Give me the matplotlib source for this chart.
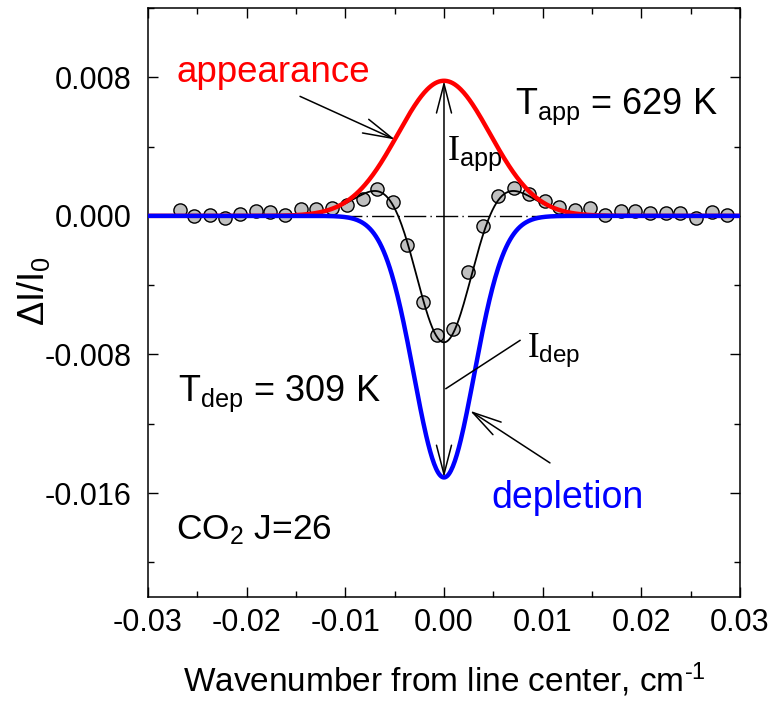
import numpy as np
import matplotlib
matplotlib.use("Agg")
import matplotlib.pyplot as plt
from matplotlib.ticker import MultipleLocator, FormatStrFormatter

plt.rcParams["font.family"] = ["Liberation Sans", "DejaVu Sans"]
plt.rcParams["mathtext.fontset"] = "custom"
plt.rcParams["mathtext.rm"] = "Liberation Sans"
plt.rcParams["mathtext.sf"] = "Liberation Sans"
plt.rcParams["mathtext.it"] = "Liberation Sans:italic"
plt.rcParams["axes.unicode_minus"] = False

# measured difference spectrum (wavenumber offset, cm-1 ; dI/I0)
wn = [-0.02676, -0.02534, -0.02372, -0.02219, -0.02068, -0.01905, -0.01763,
      -0.01611, -0.01449, -0.01297, -0.01135, -0.00983, -0.00821, -0.00679,
      -0.00517, -0.00375, -0.00213, -0.00071, 0.00091, 0.00243, 0.00395,
      0.00547, 0.00709, 0.00861, 0.01024, 0.01166, 0.01328, 0.01480,
      0.01632, 0.01794, 0.01936, 0.02088, 0.02250, 0.02392, 0.02554,
      0.02716, 0.02868]
dI = [0.00035, 0.00002, 0.00006, -0.00010, 0.00010, 0.00029, 0.00025,
      0.00006, 0.00037, 0.00039, 0.00045, 0.00064, 0.00097, 0.00157,
      0.00079, -0.00168, -0.00500, -0.00690, -0.00651, -0.00323, -0.00058,
      0.00116, 0.00161, 0.00128, 0.00083, 0.00050, 0.00035, 0.00047,
      0.00006, 0.00029, 0.00029, 0.00016, 0.00016, 0.00016, -0.00010,
      0.00025, 0.00006]

# Doppler components: peak amplitude and FWHM (cm-1)
amp_app, fwhm_app, T_app = 0.0078, 0.0110, 629
amp_dep, fwhm_dep, T_dep = -0.0151, 0.0072, 309


def gauss(x, amp, fwhm):
    s = fwhm / (2 * np.sqrt(2 * np.log(2)))
    return amp * np.exp(-0.5 * (x / s) ** 2)


x = np.linspace(-0.03, 0.03, 601)
y_app = gauss(x, amp_app, fwhm_app)
y_dep = gauss(x, amp_dep, fwhm_dep)
y_fit = y_app + y_dep

fig = plt.figure(figsize=(7.76, 7.02), dpi=100)
ax = fig.add_axes([0.1907, 0.1496, 0.7629, 0.839])

ax.axhline(0, color="black", lw=1.0, ls=(0, (16, 3, 1, 3)), zorder=1)
ax.plot(wn, dI, "o", ms=9.5, mfc="#c0c0c0", mec="black", mew=1.0, zorder=2)
ax.plot(x, y_fit, color="black", lw=1.3, zorder=3)
ax.plot(x, y_app, color="#ff0000", lw=3.2, zorder=4)
ax.plot(x, y_dep, color="#0000ff", lw=3.2, zorder=4)

arrow_kw = dict(arrowstyle="->,head_length=1.05,head_width=0.27",
                mutation_scale=20, color="black", lw=1.1,
                shrinkA=0, shrinkB=0)
ax.annotate("", xy=(0, amp_app), xytext=(0, amp_dep),
            arrowprops=dict(arrowstyle="<->,head_length=1.05,head_width=0.27",
                            mutation_scale=20, color="black", lw=1.1,
                            shrinkA=0, shrinkB=0), zorder=5)
ax.annotate("", xy=(-0.00497, 0.00441), xytext=(-0.01459, 0.0069),
            arrowprops=arrow_kw, zorder=5)
ax.annotate("", xy=(0.00264, -0.01125), xytext=(0.01074, -0.01426),
            arrowprops=arrow_kw, zorder=5)
ax.plot([0.0002, 0.0077], [-0.00997, -0.00719], color="black", lw=1.1, zorder=5)

ax.text(-0.02716, 0.00771, "appearance", color="#ff0000", fontsize=26.5,
        va="baseline")
ax.text(0.00476, -0.01687, "depletion", color="#0000ff", fontsize=27,
        va="baseline")
ax.text(0.0072, 0.00586, r"T$_{\mathrm{app}}$ = %d K" % T_app, fontsize=26,
        va="baseline")
ax.text(-0.02696, -0.01067, r"T$_{\mathrm{dep}}$ = %d K" % T_dep, fontsize=26,
        va="baseline")
ax.text(-0.02716, -0.01867, r"CO$_2$ J=26", fontsize=25.5, va="baseline")
ax.text(0.0003, 0.00325, r"I$_{\mathrm{app}}$", fontsize=26, va="baseline",
        family=["Liberation Serif"])
ax.text(0.0084, -0.00817, r"I$_{\mathrm{dep}}$", fontsize=25, va="baseline",
        family=["Liberation Serif"])

ax.set_xlim(-0.03, 0.03)
ax.set_ylim(-0.022, 0.012)
ax.xaxis.set_major_locator(MultipleLocator(0.01))
ax.xaxis.set_minor_locator(MultipleLocator(0.005))
ax.yaxis.set_major_locator(MultipleLocator(0.008))
ax.yaxis.set_minor_locator(MultipleLocator(0.004))
ax.xaxis.set_major_formatter(FormatStrFormatter("%.2f"))
ax.yaxis.set_major_formatter(FormatStrFormatter("%.3f"))
ax.tick_params(which="both", direction="in", top=True, right=True,
               width=1.0, labelsize=22)
ax.tick_params(which="major", length=7)
ax.tick_params(which="minor", length=4.5)
ax.tick_params(axis="x", pad=8)
ax.tick_params(axis="y", pad=12)
for sp in ax.spines.values():
    sp.set_linewidth(1.1)

ax.set_xlabel(r"Wavenumber from line center, cm$^{\text{-1}}$", fontsize=24)
ax.xaxis.set_label_coords(0.5, -0.108)
ax.set_ylabel(r"$\Delta$I/I$_0$", fontsize=26)
ax.yaxis.set_label_coords(-0.162, 0.52)

fig.savefig("out.png", dpi=100)
